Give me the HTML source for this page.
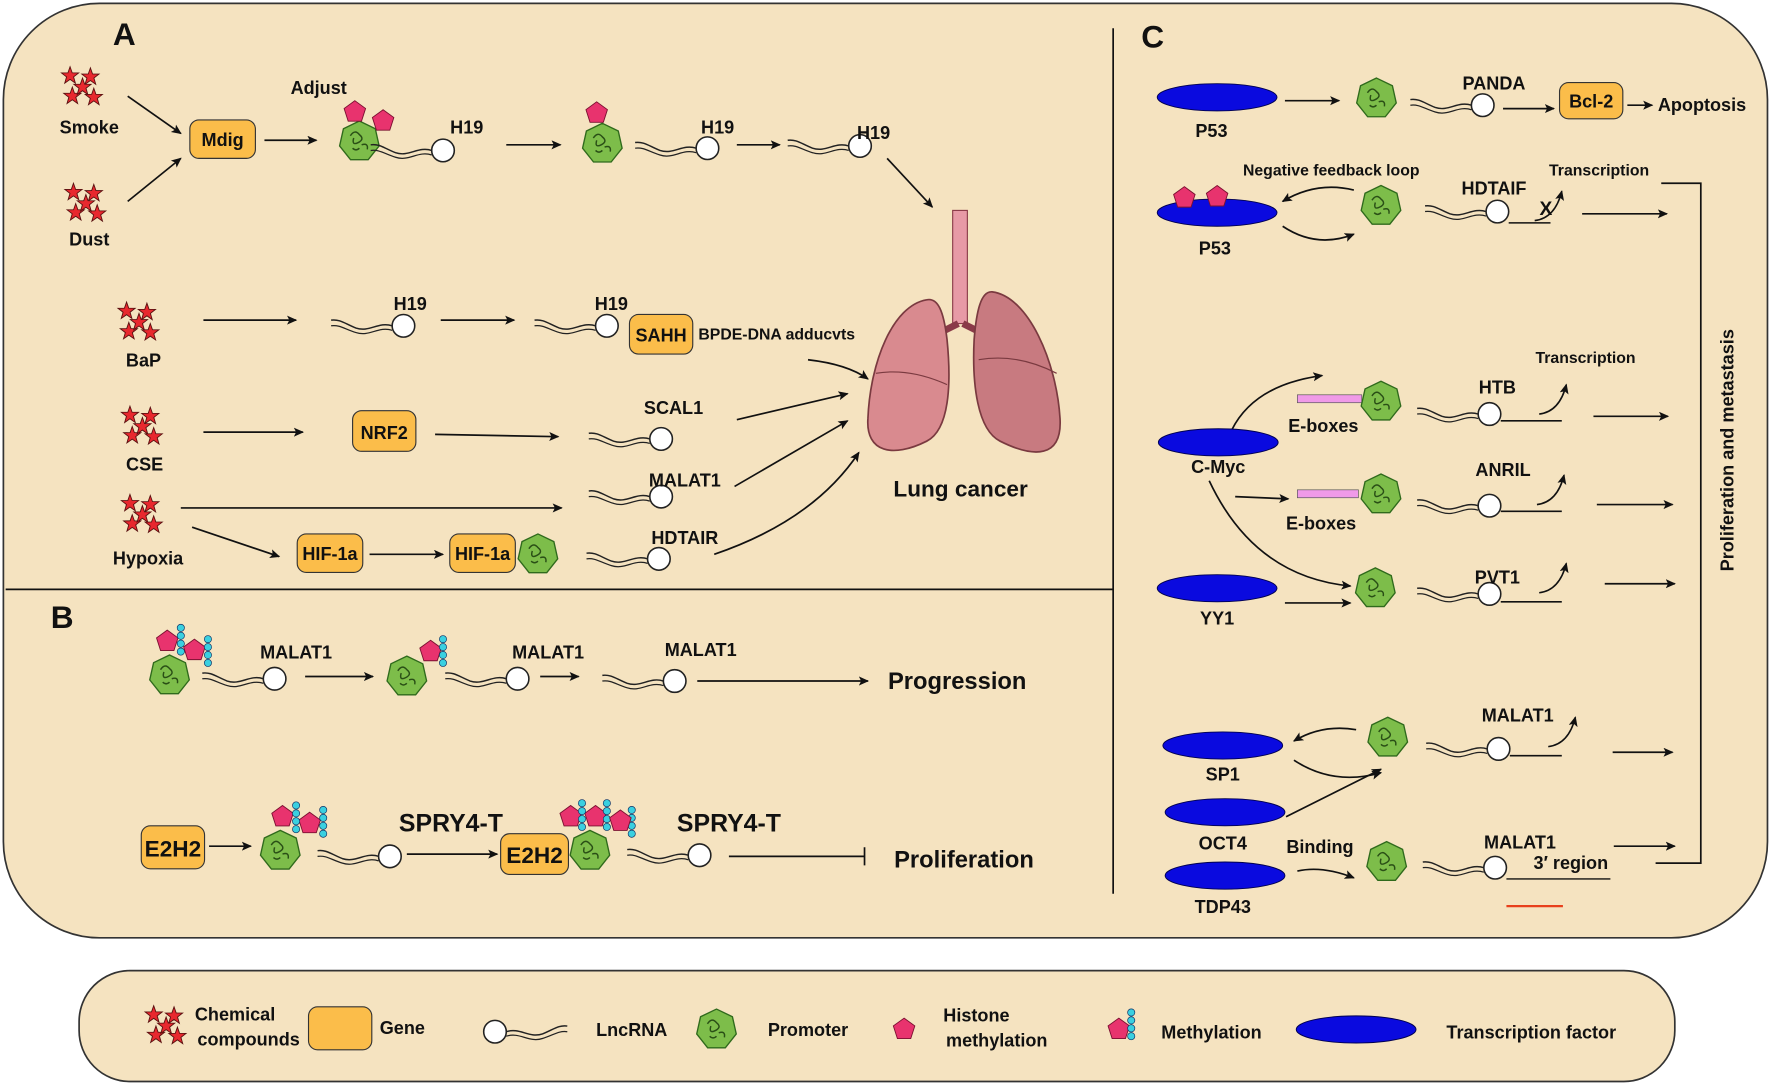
<!DOCTYPE html>
<html><head><meta charset="utf-8"><style>
html,body{margin:0;padding:0;background:#fff;}
svg{display:block;}
text{font-family:"Liberation Sans",Arial,sans-serif;font-weight:bold;fill:#111;}
</style></head><body>
<svg width="1772" height="1086" viewBox="0 0 1568 960" preserveAspectRatio="none" xmlns="http://www.w3.org/2000/svg">
<defs>
<marker id="ar" markerWidth="10" markerHeight="10" refX="8" refY="4" orient="auto" markerUnits="userSpaceOnUse"><path d="M0,0 L9,4 L0,8 L2,4 z" fill="#111"/></marker>
<g id="star"><polygon points="0,-8 1.9,-2.6 7.6,-2.5 3.1,1 4.7,6.5 0,3.2 -4.7,6.5 -3.1,1 -7.6,-2.5 -1.9,-2.6" fill="#e8282e" stroke="#5a1010" stroke-width="0.8"/></g>
<g id="stars"><use href="#star" x="-10" y="-10"/><use href="#star" x="8" y="-9"/><use href="#star" x="-8" y="8"/><use href="#star" x="11" y="9"/><use href="#star" x="1" y="0"/></g>
<g id="prom"><polygon points="0,-18 14.1,-11.2 17.5,4 7.8,16.2 -7.8,16.2 -17.5,4 -14.1,-11.2" fill="#7dbd4a" stroke="#2f6a1c" stroke-width="1.2"/><path d="M-8,-5 q4,-6 8,-1 q5,4 -1,7 q-6,3 -4,-4 M2,3 q6,-2 5,4 M-6,6 q3,3 6,0" fill="none" stroke="#2a4f16" stroke-width="1.3"/></g>
<g id="hist"><polygon points="0,-10 9.5,-3.1 5.9,8.1 -5.9,8.1 -9.5,-3.1" fill="#e8336e" stroke="#7a1030" stroke-width="0.8"/></g>
<g id="dots"><circle cx="0" cy="0" r="3.2" fill="#3ad0e0" stroke="#136" stroke-width="0.6"/><circle cx="0" cy="7" r="3.2" fill="#3ad0e0" stroke="#136" stroke-width="0.6"/><circle cx="0" cy="14" r="3.2" fill="#3ad0e0" stroke="#136" stroke-width="0.6"/><circle cx="0" cy="21" r="3.2" fill="#3ad0e0" stroke="#136" stroke-width="0.6"/></g>
<g id="lnc"><path d="M-10,0 C-22,-4 -30,6 -42,2 C-52,-2 -56,-6 -64,-5" fill="none" stroke="#222" stroke-width="1.3"/><path d="M-10,4 C-22,0 -30,10 -42,6 C-52,3 -56,-1 -64,0" fill="none" stroke="#222" stroke-width="1.1"/><circle cx="0" cy="0" r="10" fill="#fff" stroke="#222" stroke-width="1.4"/></g>
<g id="tf"><ellipse cx="0" cy="0" rx="53" ry="12" fill="#0a0adf" stroke="#000050" stroke-width="0.8"/></g>
<g id="ben"><path d="M0,0 Q18,-2 24,-26" fill="none" stroke="#111" stroke-width="1.4" marker-end="url(#ar)"/></g>
</defs>
<g stroke="#111" stroke-width="1.5" fill="none">
<rect x="3" y="3" width="1561" height="826" rx="85" fill="#f5e3c0" stroke="#333"/>
<line x1="985" y1="25" x2="985" y2="790"/>
<line x1="5" y1="521" x2="985" y2="521"/>
<rect x="70" y="858" width="1412" height="98" rx="45" fill="#f5e3c0" stroke="#333"/>
</g>
<text x="110" y="40" font-size="28" text-anchor="middle">A</text>
<text x="55" y="555" font-size="28" text-anchor="middle">B</text>
<text x="1020" y="42" font-size="28" text-anchor="middle">C</text>

<g font-size="16">
<!-- Panel A -->
<use href="#stars" x="72" y="77"/><text x="79" y="118" text-anchor="middle">Smoke</text>
<use href="#stars" x="75" y="180"/><text x="79" y="217" text-anchor="middle">Dust</text>
<g stroke="#111" stroke-width="1.5" fill="none" marker-end="url(#ar)">
<line x1="113" y1="85" x2="160" y2="118"/><line x1="113" y1="178" x2="160" y2="140"/>
<line x1="234" y1="124" x2="280" y2="124"/><line x1="448" y1="128" x2="496" y2="128"/>
<line x1="652" y1="128" x2="690" y2="128"/><line x1="785" y1="140" x2="825" y2="183"/>
<line x1="180" y1="283" x2="262" y2="283"/><line x1="390" y1="283" x2="455" y2="283"/>
<path d="M715,318 Q750,322 768,335"/>
<line x1="180" y1="382" x2="268" y2="382"/><line x1="385" y1="384" x2="494" y2="386"/>
<line x1="652" y1="371" x2="750" y2="348"/>
<line x1="160" y1="449" x2="497" y2="449"/><line x1="650" y1="430" x2="750" y2="372"/>
<line x1="170" y1="466" x2="247" y2="492"/><line x1="327" y1="490" x2="392" y2="490"/>
<path d="M632,490 Q720,460 760,400"/>
</g>
<rect x="168" y="106" width="58" height="34" rx="8" fill="#fbbd4a" stroke="#333"/><text x="197" y="129" text-anchor="middle">Mdig</text>
<text x="282" y="83" text-anchor="middle">Adjust</text>
<use href="#prom" x="318" y="125"/><use href="#hist" x="314" y="99"/><use href="#hist" x="339" y="107"/>
<use href="#lnc" x="392" y="133"/><text x="413" y="118" text-anchor="middle">H19</text>
<use href="#prom" x="533" y="127"/><use href="#hist" x="528" y="100"/>
<use href="#lnc" x="626" y="131"/><text x="635" y="118" text-anchor="middle">H19</text>
<use href="#lnc" x="761" y="129"/><text x="773" y="123" text-anchor="middle">H19</text>

<use href="#stars" x="122" y="285"/><text x="127" y="324" text-anchor="middle">BaP</text>
<use href="#lnc" x="357" y="288"/><text x="363" y="274" text-anchor="middle">H19</text>
<use href="#lnc" x="537" y="288"/><text x="541" y="274" text-anchor="middle">H19</text>
<rect x="557" y="278" width="56" height="35" rx="8" fill="#fbbd4a" stroke="#333"/><text x="585" y="302" text-anchor="middle">SAHH</text>
<text x="618" y="300" font-size="14">BPDE-DNA adducvts</text>

<use href="#stars" x="125" y="377"/><text x="128" y="416" text-anchor="middle">CSE</text>
<rect x="312" y="363" width="56" height="36" rx="8" fill="#fbbd4a" stroke="#333"/><text x="340" y="388" text-anchor="middle">NRF2</text>
<use href="#lnc" x="585" y="388"/><text x="596" y="366" text-anchor="middle">SCAL1</text>

<use href="#stars" x="125" y="455"/><text x="131" y="499" text-anchor="middle">Hypoxia</text>
<use href="#lnc" x="585" y="439"/><text x="606" y="430" text-anchor="middle">MALAT1</text>
<rect x="263" y="472" width="58" height="34" rx="8" fill="#fbbd4a" stroke="#333"/><text x="292" y="495" text-anchor="middle">HIF-1a</text>
<rect x="398" y="472" width="58" height="34" rx="8" fill="#fbbd4a" stroke="#333"/><text x="427" y="495" text-anchor="middle">HIF-1a</text>
<use href="#prom" x="476" y="490"/>
<use href="#lnc" x="583" y="494"/><text x="606" y="481" text-anchor="middle">HDTAIR</text>

<!-- Lung -->
<rect x="843" y="186" width="13" height="100" fill="#e79aa6" stroke="#8a3a48"/>
<path d="M848,286 L820,300 M852,286 L880,300" stroke="#8a3a48" stroke-width="6" fill="none"/>
<path d="M820,265 C790,270 770,320 768,370 C766,400 790,405 820,390 C840,380 842,340 838,300 C835,275 830,263 820,265 Z" fill="#d98a8f" stroke="#7a3a40" stroke-width="1.5"/>
<path d="M878,258 C910,262 935,320 938,370 C940,405 915,405 885,390 C865,380 860,340 862,300 C864,275 868,257 878,258 Z" fill="#c87a80" stroke="#7a3a40" stroke-width="1.5"/>
<path d="M775,330 Q805,325 838,340 M866,318 Q900,312 935,330" stroke="#7a3a40" fill="none"/>
<text x="850" y="439" text-anchor="middle" font-size="20">Lung cancer</text>

<!-- Panel B -->
<use href="#prom" x="150" y="597"/><use href="#hist" x="148" y="567"/><use href="#hist" x="172" y="575"/><use href="#dots" x="160" y="555"/><use href="#dots" x="184" y="565"/>
<use href="#lnc" x="243" y="600"/><text x="262" y="582" text-anchor="middle">MALAT1</text>
<g stroke="#111" stroke-width="1.5" fill="none" marker-end="url(#ar)">
<line x1="270" y1="598" x2="330" y2="598"/><line x1="478" y1="598" x2="512" y2="598"/><line x1="617" y1="602" x2="768" y2="602"/>
<line x1="185" y1="748" x2="222" y2="748"/><line x1="360" y1="755" x2="440" y2="755"/>
</g>
<use href="#prom" x="360" y="598"/><use href="#hist" x="381" y="576"/><use href="#dots" x="392" y="565"/>
<use href="#lnc" x="458" y="600"/><text x="485" y="582" text-anchor="middle">MALAT1</text>
<use href="#lnc" x="597" y="602"/><text x="620" y="580" text-anchor="middle">MALAT1</text>
<text x="847" y="609" text-anchor="middle" font-size="21">Progression</text>
<rect x="125" y="730" width="56" height="38" rx="8" fill="#fbbd4a" stroke="#333"/><text x="153" y="757" text-anchor="middle" font-size="20">E2H2</text>
<use href="#prom" x="248" y="752"/><use href="#hist" x="250" y="722"/><use href="#hist" x="274" y="728"/><use href="#dots" x="262" y="712"/><use href="#dots" x="286" y="716"/>
<use href="#lnc" x="345" y="757"/><text x="353" y="735" font-size="22">SPRY4-T</text>
<rect x="443" y="737" width="60" height="36" rx="8" fill="#fbbd4a" stroke="#333"/><text x="473" y="763" text-anchor="middle" font-size="20">E2H2</text>
<use href="#prom" x="522" y="752"/><use href="#hist" x="505" y="722"/><use href="#hist" x="527" y="722"/><use href="#dots" x="515" y="710"/><use href="#dots" x="537" y="710"/><use href="#dots" x="559" y="716"/><use href="#hist" x="549" y="726"/>
<use href="#lnc" x="619" y="756"/><text x="599" y="735" font-size="22">SPRY4-T</text>
<path d="M645,757 H765 M765,749 V765" stroke="#111" stroke-width="1.5" fill="none"/>
<text x="853" y="767" text-anchor="middle" font-size="21">Proliferation</text>

<!-- Panel C -->
<g stroke="#111" stroke-width="1.5" fill="none" marker-end="url(#ar)">
<line x1="1137" y1="89" x2="1185" y2="89"/><line x1="1330" y1="96" x2="1375" y2="96"/><line x1="1440" y1="93" x2="1462" y2="93"/>
<path d="M1198,168 Q1165,160 1135,178"/><path d="M1135,200 Q1165,220 1198,207"/>
<line x1="1400" y1="189" x2="1475" y2="189"/>
<path d="M1090,380 Q1110,340 1170,332"/><line x1="1410" y1="368" x2="1476" y2="368"/>
<line x1="1093" y1="439" x2="1140" y2="441"/><line x1="1413" y1="446" x2="1480" y2="446"/>
<path d="M1070,425 Q1110,510 1195,518"/><line x1="1137" y1="533" x2="1195" y2="533"/><line x1="1420" y1="516" x2="1482" y2="516"/>
<path d="M1200,645 Q1170,640 1145,655"/><path d="M1145,672 Q1180,695 1222,683"/>
<line x1="1427" y1="665" x2="1480" y2="665"/><line x1="1138" y1="722" x2="1222" y2="680"/>
<path d="M1148,770 Q1170,765 1198,776"/><line x1="1428" y1="748" x2="1482" y2="748"/>
</g>
<use href="#tf" x="1077" y="86"/><text x="1072" y="121" text-anchor="middle">P53</text>
<use href="#prom" x="1218" y="87"/><use href="#lnc" x="1312" y="93"/><text x="1322" y="79" text-anchor="middle">PANDA</text>
<rect x="1380" y="73" width="56" height="32" rx="8" fill="#fbbd4a" stroke="#333"/><text x="1408" y="95" text-anchor="middle">Bcl-2</text>
<text x="1467" y="98">Apoptosis</text>

<use href="#tf" x="1077" y="188"/><use href="#hist" x="1048" y="175"/><use href="#hist" x="1077" y="174"/><text x="1075" y="225" text-anchor="middle">P53</text>
<text x="1178" y="155" text-anchor="middle" font-size="14">Negative feedback loop</text>
<use href="#prom" x="1222" y="182"/><use href="#lnc" x="1325" y="187"/><line x1="1335" y1="197" x2="1372" y2="197" stroke="#111" stroke-width="1.4"/>
<text x="1322" y="172" text-anchor="middle">HDTAIF</text><use href="#ben" x="1358" y="195"/><text x="1368" y="190" text-anchor="middle" font-size="17">X</text>
<text x="1415" y="155" text-anchor="middle" font-size="14">Transcription</text>
<path d="M1470,162 H1505 V763 H1465" stroke="#111" stroke-width="1.5" fill="none"/>
<text transform="translate(1534,398) rotate(-90)" text-anchor="middle" font-size="16">Proliferation and metastasis</text>

<use href="#tf" x="1078" y="391"/><text x="1078" y="418" text-anchor="middle">C-Myc</text>
<rect x="1148" y="349" width="57" height="7" fill="#f09ae8" stroke="#555" stroke-width="0.6"/><use href="#prom" x="1222" y="355"/>
<use href="#lnc" x="1318" y="366"/><line x1="1328" y1="372" x2="1382" y2="372" stroke="#111" stroke-width="1.4"/>
<text x="1325" y="348" text-anchor="middle">HTB</text><use href="#ben" x="1362" y="366"/>
<text x="1403" y="321" text-anchor="middle" font-size="14">Transcription</text><text x="1171" y="382" text-anchor="middle">E-boxes</text>
<rect x="1148" y="433" width="54" height="7" fill="#f09ae8" stroke="#555" stroke-width="0.6"/><use href="#prom" x="1222" y="437"/>
<use href="#lnc" x="1318" y="447"/><line x1="1328" y1="452" x2="1382" y2="452" stroke="#111" stroke-width="1.4"/>
<text x="1330" y="421" text-anchor="middle">ANRIL</text><use href="#ben" x="1360" y="446"/><text x="1169" y="468" text-anchor="middle">E-boxes</text>

<use href="#tf" x="1077" y="520"/><text x="1077" y="552" text-anchor="middle">YY1</text>
<use href="#prom" x="1217" y="520"/><use href="#lnc" x="1318" y="525"/><line x1="1328" y1="532" x2="1382" y2="532" stroke="#111" stroke-width="1.4"/>
<text x="1325" y="516" text-anchor="middle">PVT1</text><use href="#ben" x="1362" y="524"/>

<use href="#tf" x="1082" y="659"/><text x="1082" y="690" text-anchor="middle">SP1</text>
<use href="#prom" x="1228" y="652"/><use href="#lnc" x="1326" y="662"/><line x1="1336" y1="668" x2="1382" y2="668" stroke="#111" stroke-width="1.4"/>
<text x="1343" y="638" text-anchor="middle">MALAT1</text><use href="#ben" x="1370" y="660"/>
<use href="#tf" x="1084" y="718"/><text x="1082" y="751" text-anchor="middle">OCT4</text>
<use href="#tf" x="1084" y="774"/><text x="1082" y="807" text-anchor="middle">TDP43</text>
<text x="1168" y="754" text-anchor="middle">Binding</text>
<use href="#prom" x="1227" y="762"/><use href="#lnc" x="1323" y="767"/>
<text x="1345" y="750" text-anchor="middle">MALAT1</text><text x="1390" y="768" text-anchor="middle">3′ region</text>
<line x1="1333" y1="777" x2="1425" y2="777" stroke="#111" stroke-width="1.2"/>
<line x1="1333" y1="801" x2="1383" y2="801" stroke="#e8401c" stroke-width="2"/>

<!-- Legend -->
<use href="#stars" x="146" y="907"/><text x="208" y="902" text-anchor="middle">Chemical</text><text x="220" y="924" text-anchor="middle">compounds</text>
<rect x="273" y="890" width="56" height="38" rx="8" fill="#fbbd4a" stroke="#333"/><text x="356" y="914" text-anchor="middle">Gene</text>
<g transform="translate(438,912) scale(-1,1)"><use href="#lnc" x="0" y="0"/></g><text x="559" y="916" text-anchor="middle">LncRNA</text>
<use href="#prom" x="634" y="910"/><text x="715" y="916" text-anchor="middle">Promoter</text>
<use href="#hist" x="800" y="910"/><text x="864" y="903" text-anchor="middle">Histone</text><text x="882" y="925" text-anchor="middle">methylation</text>
<use href="#hist" x="990" y="910"/><use href="#dots" x="1001" y="895"/><text x="1072" y="918" text-anchor="middle">Methylation</text>
<use href="#tf" x="1200" y="910"/><text x="1355" y="918" text-anchor="middle">Transcription factor</text>
</g>
</svg>
</body></html>
